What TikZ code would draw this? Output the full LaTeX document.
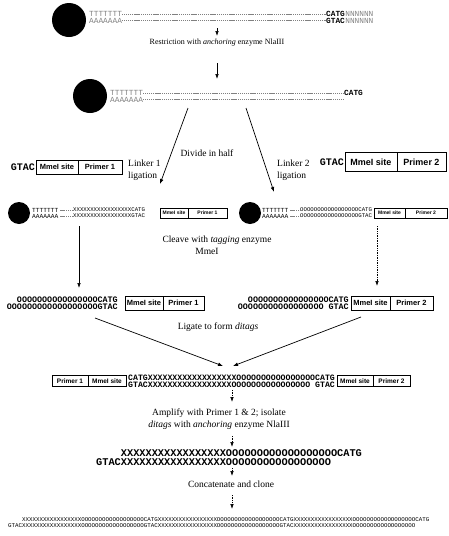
\documentclass[tikz,border=0pt]{standalone}
\usepackage{fontspec}
\setmainfont{Liberation Serif}
\setsansfont{Liberation Sans}
\setmonofont{Liberation Mono}
\usetikzlibrary{arrows.meta, positioning}
\newcommand{\tagX}{XXXXXXXXXXXXXXXXX}
\newcommand{\tagO}{OOOOOOOOOOOOOOOO}
\newcommand{\fs}[1]{\fontsize{#1}{#1}\selectfont}

\begin{document}
\begin{tikzpicture}[x=1pt, y=-1pt,
    bead/.style={circle, fill=black, inner sep=0},
    seq/.style={inner sep=0, anchor=west, font=\ttfamily\bfseries\fs{#1}},
    fine/.style={inner sep=0, anchor=west, font=\ttfamily\fs{#1}},
    tail/.style={fine=#1, text=gray},
    tie/.style={gray, line width=0.5pt, dash pattern=on 1.2pt off 0.7pt},
    lbl/.style={inner sep=0, align=center, font=\fontsize{9.5}{11.5}\selectfont},
    part/.style={draw, line width=0.9pt, inner sep=0, outer sep=0, font=\sffamily\bfseries\fs{#1}},
    arr/.style={-{Latex[length=5pt, width=3.6pt]}, line width=0.7pt},
    dotarr/.style={arr, densely dotted},
]
\useasboundingbox (0,0) rectangle (448,536);

\node[bead, minimum size=34] (bead1) at (69,20) {};
\node[tail=7.8] (polyT1) at (89,14) {TTTTTTT};
\node[tail=7.8] (polyA1) at (89,20.5) {AAAAAAA};
\node[seq=7.8] (cut1) at (326,14) {CATG};
\node[seq=7.8] (cut1b) at (326,20.5) {GTAC};
\node[tail=7.8] (nn1) at (cut1.east) {NNNNNN};
\node[tail=7.8] (nn1b) at (cut1b.east) {NNNNNN};
\draw[tie] (polyT1.east) -- (cut1.west);
\draw[tie] (polyA1.east) -- (cut1b.west);

\coordinate (a1s) at (217,28);
\coordinate (a1e) at (217,36);
\draw[arr] (a1s) -- (a1e);
\node[lbl, font=\fontsize{8}{10}\selectfont] (restrict) at (217,43) {Restriction with \emph{anchoring} enzyme NlaIII};
\coordinate (a2s) at (217,63);
\coordinate (a2e) at (217,79);
\draw[arr] (a2s) -- (a2e);

\node[bead, minimum size=34] (bead2) at (90,96) {};
\node[tail=7.8] (polyT2) at (110,93) {TTTTTTT};
\node[tail=7.8] (polyA2) at (110,99.5) {AAAAAAA};
\node[seq=7.8] (cut2) at (344,93) {CATG};
\coordinate (end2) at (343,99.5);
\draw[tie] (polyT2.east) -- (cut2.west);
\draw[tie] (polyA2.east) -- (end2);

\coordinate (splitL) at (188,108);
\coordinate (tipL) at (160,184);
\coordinate (splitR) at (246,108);
\coordinate (tipR) at (274,192);
\draw[arr] (splitL) -- (tipL);
\draw[arr] (splitR) -- (tipR);
\node[lbl] (divide) at (207,153) {Divide in half};
\node[lbl, align=left, anchor=west] (lig1) at (128,170) {Linker 1\\ligation};
\node[lbl, align=left, anchor=west] (lig2) at (277,170) {Linker 2\\ligation};

\node[part=7.5, minimum width=42, minimum height=14] (siteA) at (57,167) {MmeI site};
\node[part=7.5, minimum width=44, minimum height=14, right=0pt of siteA] (primA) {Primer 1};
\node[seq=10, left=1pt of siteA] (gtacA) {GTAC};
\node[part=9, minimum width=52, minimum height=19] (siteB) at (371,162) {MmeI site};
\node[part=9, minimum width=49, minimum height=19, right=0pt of siteB] (primB) {Primer 2};
\node[seq=10, left=1pt of siteB] (gtacB) {GTAC};

\node[bead, minimum size=22] (bead3L) at (19,213) {};
\node[fine=6.2] (polyT3L) at (32,210) {TTTTTTT};
\node[fine=6.2] (polyA3L) at (32,216) {AAAAAAA};
\node[fine=5.7] (tagX3L) at (73,210) {\tagX CATG};
\node[fine=5.7] (tagX3Lb) at (73,216) {\tagX GTAC};
\draw[tie, shorten <=2pt] (polyT3L.east) -- (tagX3L.west);
\draw[tie, shorten <=2pt] (polyA3L.east) -- (tagX3Lb.west);
\node[part=5, minimum width=28, minimum height=10, anchor=west] (siteC) at (160,213) {MmeI site};
\node[part=5, minimum width=39, minimum height=10, right=0pt of siteC] (primC) {Primer 1};

\node[bead, minimum size=22] (bead3R) at (250,213) {};
\node[fine=6.2] (polyT3R) at (262,210) {TTTTTTT};
\node[fine=6.2] (polyA3R) at (262,216) {AAAAAAA};
\node[fine=5.7] (tagO3R) at (300,210) {\tagO OCATG};
\node[fine=5.7] (tagO3Rb) at (300,216) {\tagO OGTAC};
\draw[tie, shorten <=2pt] (polyT3R.east) -- (tagO3R.west);
\draw[tie, shorten <=2pt] (polyA3R.east) -- (tagO3Rb.west);
\node[part=5, minimum width=31, minimum height=10, anchor=west] (siteD) at (374,213) {MmeI site};
\node[part=5, minimum width=42, minimum height=10, right=0pt of siteD] (primD) {Primer 2};

\node[lbl] (cleave) at (217,245) {Cleave with \emph{tagging} enzyme\\\hspace*{-20pt}MmeI};
\coordinate (v1s) at (79,226);
\coordinate (v1e) at (79,288);
\coordinate (v2s) at (377,226);
\coordinate (v2e) at (377,286);
\draw[arr] (v1s) -- (v1e);
\draw[dotarr] (v2s) -- (v2e);

\node[seq=8.4, anchor=east] (tag4L) at (118,299.5) {\tagO CATG};
\node[seq=8.4, anchor=east] (tag4Lb) at (118,307) {\tagO OOGTAC};
\node[part=7.5, minimum width=38, minimum height=14, anchor=west] (siteG) at (125,303) {MmeI site};
\node[part=7.5, minimum width=41, minimum height=14, right=0pt of siteG] (primG) {Primer 1};
\node[seq=8.4, anchor=east] (tag4R) at (349,299.5) {\tagO CATG};
\node[seq=8.4, anchor=east] (tag4Rb) at (349,307) {\tagO O GTAC};
\node[part=7.5, minimum width=39, minimum height=14, anchor=west] (siteH) at (351,303) {MmeI site};
\node[part=7.5, minimum width=43, minimum height=14, right=0pt of siteH] (primH) {Primer 2};

\node[lbl] (ligate) at (218,327) {Ligate to form \emph{ditags}};
\coordinate (jL) at (95,318);
\coordinate (jLe) at (223,366);
\coordinate (jR) at (361,317);
\coordinate (jRe) at (233,366);
\draw[arr] (jL) -- (jLe);
\draw[arr] (jR) -- (jRe);

\node[part=6.5, minimum width=36, minimum height=11, anchor=west] (primE) at (52,381) {Primer 1};
\node[part=6.5, minimum width=38, minimum height=11, right=0pt of primE] (siteE) {MmeI site};
\node[seq=8.2] (ditag) at (128,377.5) {CATG\tagX X\tagO CATG};
\node[seq=8.2] (ditagb) at (128,384.8) {GTAC\tagX\tagO\ GTAC};
\node[part=6.5, minimum width=36, minimum height=11, anchor=west] (siteF) at (337,381) {MmeI site};
\node[part=6.5, minimum width=37, minimum height=11, right=0pt of siteF] (primF) {Primer 2};

\coordinate (b1s) at (232,390);
\coordinate (b1e) at (232,402);
\draw[dotarr] (b1s) -- (b1e);
\node[lbl] (amplify) at (219,419) {Amplify with Primer 1 \& 2; isolate\\\emph{ditags} with \emph{anchoring} enzyme NlaIII};
\coordinate (b2s) at (232,436);
\coordinate (b2e) at (232,447);
\draw[dotarr] (b2s) -- (b2e);

\node[seq=10.3] (free) at (120.7,453) {\tagX\tagO OOCATG};
\node[seq=10.3] (freeb) at (96,462.5) {GTAC\tagX\tagO O};
\coordinate (b3s) at (232,468);
\coordinate (b3e) at (232,476);
\draw[dotarr] (b3s) -- (b3e);
\node[lbl] (concat) at (231,484.5) {Concatenate and clone};
\coordinate (b4s) at (232,495);
\coordinate (b4e) at (232,509);
\draw[dotarr] (b4s) -- (b4e);

\node[fine=5.8] (chain) at (21.92,520) {\tagX\tagO OOCATG\tagX\tagO OOCATG\tagX\tagO OOCATG};
\node[fine=5.8] (chainb) at (8,526) {GTAC\tagX\tagO OOGTAC\tagX\tagO OOGTAC\tagX\tagO OO};
\end{tikzpicture}
\end{document}
